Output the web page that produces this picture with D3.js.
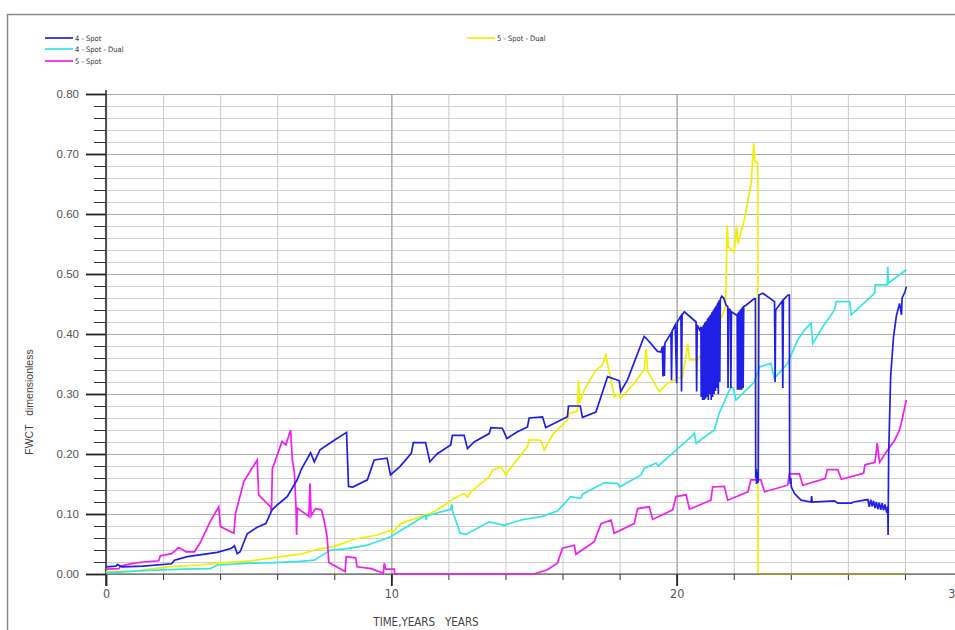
<!DOCTYPE html>
<html>
<head>
<meta charset="utf-8">
<script src="https://cdn.jsdelivr.net/npm/d3@7"></script>
<style>
  html, body { margin: 0; padding: 0; background: #fff; }
  svg { display: block; }
  .pre { white-space: pre; }
</style>
</head>
<body>
<svg id="chart" width="955" height="630"></svg>
<script>
// ---------------- DATA ----------------
const seriesNames = ["4 - Spot", "4 - Spot - Dual", "5 - Spot", "5 - Spot - Dual"];

// 4 - Spot  [time (years), FWCT]
const spot4 = [
  [0,0.012],[0.35,0.013],[0.4,0.016],[0.55,0.012],[1.3,0.013],[2.3,0.017],[2.4,0.023],[2.85,0.029],
  [3.9,0.036],[4.4,0.043],[4.5,0.047],[4.6,0.034],[4.7,0.037],[4.95,0.067],[5.3,0.078],[5.6,0.084],
  [5.82,0.107],[6.0,0.115],[6.35,0.129],[6.7,0.157],[6.85,0.175],[7.17,0.202],[7.3,0.187],[7.5,0.207],
  [8.0,0.223],[8.43,0.236],[8.5,0.146],[8.65,0.145],[9.16,0.157],[9.4,0.19],[9.85,0.193],[9.97,0.165],
  [10.3,0.179],[10.7,0.201],[10.77,0.219],[11.2,0.219],[11.35,0.187],[11.6,0.2],[12.08,0.215],[12.14,0.231],
  [12.55,0.231],[12.67,0.209],[12.9,0.22],[13.43,0.234],[13.49,0.244],[13.89,0.243],[14.05,0.226],[14.42,0.237],
  [14.77,0.245],[14.83,0.26],[15.3,0.262],[15.41,0.244],[15.7,0.251],[16.17,0.262],[16.21,0.28],[16.62,0.28],
  [16.7,0.261],[17.17,0.27],[17.58,0.329],[17.99,0.322],[18.04,0.304],[18.28,0.324],[18.86,0.396],[18.95,0.392],
  [19.33,0.371],[19.45,0.37],[19.5,0.379],[19.52,0.329],[19.54,0.381],[19.57,0.33],[19.59,0.385],
  [19.8,0.401],[19.82,0.323],[19.84,0.405],[19.95,0.415],[20.0,0.318],[20.02,0.42],[20.15,0.43],[20.17,0.304],
  [20.19,0.432],[20.27,0.437],[20.68,0.42],[20.7,0.304],[20.72,0.415],[20.8,0.407],
  [20.85,0.412],[20.86,0.295],[20.88,0.41],[20.9,0.41],[20.91,0.29],[20.93,0.413],[20.95,0.415],[20.96,0.29],
  [20.98,0.417],[21.0,0.418],[21.01,0.292],[21.03,0.42],[21.05,0.42],[21.06,0.295],[21.08,0.424],[21.1,0.425],
  [21.11,0.29],[21.13,0.427],[21.15,0.428],[21.16,0.3],[21.18,0.43],[21.2,0.432],[21.21,0.29],[21.23,0.434],
  [21.25,0.436],[21.26,0.295],[21.28,0.438],[21.3,0.44],[21.31,0.3],[21.33,0.442],[21.35,0.443],[21.36,0.305],
  [21.38,0.445],[21.4,0.447],[21.41,0.31],[21.43,0.45],[21.45,0.452],[21.46,0.3],[21.48,0.454],[21.5,0.456],
  [21.51,0.32],[21.53,0.458],[21.58,0.463],[21.65,0.46],[21.73,0.448],[21.79,0.446],[21.8,0.31],[21.82,0.442],
  [21.88,0.44],[21.9,0.31],[21.92,0.437],[22.08,0.432],[22.12,0.432],[22.13,0.307],[22.15,0.434],[22.17,0.435],
  [22.18,0.307],[22.2,0.437],[22.22,0.438],[22.23,0.307],[22.25,0.44],[22.27,0.441],[22.28,0.307],[22.3,0.443],
  [22.32,0.444],[22.33,0.31],[22.35,0.446],[22.43,0.448],[22.72,0.459],[22.76,0.459],[22.77,0.16],[22.79,0.175],
  [22.8,0.15],[22.82,0.17],[22.84,0.152],[22.86,0.158],[22.88,0.465],[23.02,0.468],[23.43,0.454],[23.45,0.32],
  [23.47,0.44],[23.7,0.455],[23.72,0.31],[23.74,0.457],[23.9,0.465],[23.95,0.465],[23.96,0.165],[23.98,0.15],
  [24.0,0.16],[24.02,0.145],[24.13,0.134],[24.36,0.123],[24.71,0.12],[24.73,0.13],[24.75,0.12],[25.53,0.122],
  [25.65,0.118],[26.12,0.118],[26.2,0.12],[26.7,0.124],[26.75,0.112],[26.8,0.124],[26.85,0.113],[26.9,0.122],
  [26.95,0.11],[27.0,0.12],[27.05,0.108],[27.1,0.119],[27.15,0.107],[27.2,0.118],[27.25,0.106],[27.3,0.116],
  [27.35,0.105],[27.4,0.112],[27.41,0.065],[27.43,0.2],[27.5,0.33],[27.6,0.395],[27.7,0.43],[27.81,0.451],
  [27.85,0.44],[27.88,0.432],[27.9,0.46],[28.0,0.47],[28.05,0.479]
];

// 4 - Spot - Dual
const spot4Dual = [
  [0,0.002],[1.5,0.006],[2.7,0.008],[3.66,0.009],[3.9,0.015],[5.06,0.018],[5.9,0.019],[6.8,0.021],
  [7.3,0.023],[7.5,0.029],[7.87,0.04],[8.4,0.042],[9.16,0.048],[9.97,0.062],[10.56,0.079],[11.03,0.093],
  [11.2,0.098],[11.22,0.09],[11.25,0.097],[12.08,0.108],[12.12,0.116],[12.14,0.106],[12.41,0.068],[12.61,0.066],
  [13.13,0.079],[13.43,0.087],[13.95,0.081],[14.54,0.09],[15.3,0.096],[15.82,0.105],[16.29,0.129],[16.64,0.126],
  [16.7,0.133],[17.46,0.152],[17.93,0.151],[18.0,0.145],[18.75,0.165],[18.86,0.176],[19.28,0.185],[19.35,0.18],
  [19.92,0.204],[20.56,0.231],[20.62,0.235],[20.68,0.218],[21.32,0.24],[21.49,0.268],[21.9,0.312],[21.98,0.31],
  [22.08,0.29],[22.72,0.32],[22.9,0.345],[23.3,0.351],[23.42,0.326],[23.89,0.351],[24.24,0.39],[24.48,0.407],
  [24.71,0.418],[24.77,0.384],[25.12,0.412],[25.53,0.44],[25.59,0.454],[26.06,0.454],[26.12,0.432],[26.94,0.468],
  [26.96,0.482],[27.38,0.482],[27.4,0.512],[27.42,0.485],[28.05,0.507]
];

// 5 - Spot
const spot5 = [
  [0,0.008],[0.45,0.009],[0.5,0.013],[0.85,0.017],[1.3,0.02],[1.85,0.022],[1.9,0.03],[2.3,0.034],
  [2.55,0.044],[2.7,0.04],[2.8,0.037],[3.1,0.037],[3.3,0.052],[3.66,0.088],[3.95,0.112],[4.01,0.079],
  [4.48,0.068],[4.54,0.101],[4.83,0.154],[5.3,0.19],[5.35,0.132],[5.77,0.112],[5.8,0.105],[5.83,0.175],
  [6.17,0.221],[6.3,0.215],[6.47,0.24],[6.53,0.19],[6.6,0.17],[6.66,0.11],[6.68,0.065],[6.7,0.11],
  [7.11,0.096],[7.15,0.151],[7.19,0.097],[7.34,0.109],[7.55,0.107],[7.64,0.09],[7.75,0.062],[7.81,0.019],
  [8.0,0.014],[8.38,0.004],[8.42,0.029],[8.75,0.027],[8.8,0.012],[9.3,0.009],[9.72,0.001],[9.75,0.018],
  [9.8,0.008],[10.1,0.008],[10.12,0],[15.0,0],[15.47,0.007],[15.82,0.018],[16.0,0.043],[16.41,0.048],
  [16.47,0.033],[17.11,0.054],[17.35,0.084],[17.7,0.09],[17.81,0.068],[18.51,0.084],[18.63,0.109],[19.04,0.112],
  [19.16,0.091],[19.86,0.107],[19.98,0.129],[20.33,0.132],[20.45,0.108],[21.2,0.123],[21.26,0.145],[21.67,0.146],
  [21.79,0.123],[22.5,0.137],[22.6,0.157],[22.95,0.157],[23.08,0.137],[23.89,0.148],[23.95,0.167],[24.3,0.167],
  [24.42,0.148],[25.2,0.159],[25.28,0.174],[25.65,0.174],[25.77,0.158],[26.55,0.168],[26.6,0.182],[26.95,0.186],
  [27.03,0.218],[27.11,0.186],[27.4,0.207],[27.64,0.223],[27.81,0.24],[27.87,0.251],[28.05,0.29]
];

// 5 - Spot - Dual
const spot5Dual = [
  [0,0.004],[1.0,0.005],[2.14,0.012],[3.3,0.015],[3.9,0.018],[5.06,0.022],[6.0,0.028],[6.82,0.033],
  [7.4,0.041],[8.0,0.046],[8.69,0.058],[9.51,0.065],[9.97,0.073],[10.03,0.069],[10.33,0.084],[11.03,0.096],
  [11.5,0.104],[11.96,0.118],[12.2,0.126],[12.55,0.134],[12.67,0.128],[12.78,0.137],[13.43,0.162],[13.55,0.173],
  [13.84,0.179],[14.02,0.165],[14.1,0.172],[14.77,0.212],[14.83,0.224],[15.24,0.223],[15.36,0.207],[15.65,0.232],
  [16.17,0.257],[16.23,0.268],[16.52,0.271],[16.56,0.323],[16.6,0.285],[16.76,0.307],[17.17,0.34],[17.4,0.348],
  [17.52,0.365],[17.58,0.35],[17.7,0.323],[17.81,0.295],[17.93,0.3],[18.04,0.293],[18.51,0.318],[18.86,0.34],
  [18.93,0.375],[18.98,0.338],[19.16,0.323],[19.39,0.304],[19.68,0.318],[20.21,0.329],[20.39,0.384],[20.45,0.357],
  [20.74,0.357],[21.32,0.41],[21.56,0.427],[21.67,0.44],[21.72,0.45],[21.77,0.581],[21.81,0.545],[22.02,0.537],
  [22.1,0.581],[22.14,0.55],[22.37,0.59],[22.61,0.651],[22.7,0.718],[22.74,0.688],[22.84,0.685],[22.85,0],
  [28.05,0]
];

const seriesColors = ["#1f1fe6", "#33e6e6", "#f01ef0", "#f0f000"];
const xMajorTicks = [0, 10, 20, 30];
const xMinorTicks = d3.range(0, 31, 2);
const yMajorTicks = [0, 0.1, 0.2, 0.3, 0.4, 0.5, 0.6, 0.7, 0.8];
const yMinorTicks = d3.range(0, 0.8001, 0.02);
const xTitle = "TIME,YEARS   YEARS";
const yTitle = "FWCT   dimensionless";

// ---------------- DRAW ----------------
const svg = d3.select("#chart");
const x = d3.scaleLinear().domain([0, 30]).range([106, 962]);
const y = d3.scaleLinear().domain([0, 0.8]).range([574, 94]);
const narrow = "'Liberation Sans Narrow','DejaVu Sans Condensed','Liberation Sans',sans-serif";
const regular = "'Liberation Sans',Arial,sans-serif";

// outer frame
svg.append("rect").attr("x", 7.5).attr("y", 14.5).attr("width", 960).attr("height", 630)
  .attr("fill", "none").attr("stroke", "#8a8a8a").attr("stroke-width", 1.5);

// grid - horizontal
const gridH = svg.append("g").attr("transform", `translate(${x(0)},0)`)
  .call(d3.axisLeft(y).tickValues(yMinorTicks).tickSize(-(x(30) - x(0))).tickFormat(""));
gridH.select(".domain").remove();
gridH.selectAll("line").attr("stroke", "#d0d0d0").attr("stroke-width", 1);
const gridHMajor = svg.append("g").attr("transform", `translate(${x(0)},0)`)
  .call(d3.axisLeft(y).tickValues(yMajorTicks).tickSize(-(x(30) - x(0))).tickFormat(""));
gridHMajor.select(".domain").remove();
gridHMajor.selectAll("line").attr("stroke", "#a8a8a8").attr("stroke-width", 1.2);

// grid - vertical
const gridV = svg.append("g").attr("transform", `translate(0,${y(0)})`)
  .call(d3.axisBottom(x).tickValues(xMinorTicks).tickSize(-(y(0) - y(0.8))).tickFormat(""));
gridV.select(".domain").remove();
gridV.selectAll("line").attr("stroke", "#cbcbcb").attr("stroke-width", 1);
const gridVMajor = svg.append("g").attr("transform", `translate(0,${y(0)})`)
  .call(d3.axisBottom(x).tickValues(xMajorTicks).tickSize(-(y(0) - y(0.8))).tickFormat(""));
gridVMajor.select(".domain").remove();
gridVMajor.selectAll("line").attr("stroke", "#a5a5a5").attr("stroke-width", 1.2);

// y axis minor ticks
const yMin = svg.append("g").attr("transform", `translate(${x(0)},0)`)
  .call(d3.axisLeft(y).tickValues(yMinorTicks).tickSize(12).tickFormat(""));
yMin.select(".domain").remove();
yMin.selectAll("line").attr("stroke", "#333").attr("stroke-width", 1);

// y axis major
const yAx = svg.append("g").attr("transform", `translate(${x(0)},0)`)
  .call(d3.axisLeft(y).tickValues(yMajorTicks).tickSize(20).tickPadding(7).tickFormat(d3.format(".2f")));
yAx.select(".domain").remove();
yAx.selectAll("line").attr("stroke", "#222").attr("stroke-width", 1.8);
yAx.selectAll("text").attr("font-family", regular).attr("font-size", 11.5).attr("fill", "#555");

// x axis minor
const xMin = svg.append("g").attr("transform", `translate(0,${y(0)})`)
  .call(d3.axisBottom(x).tickValues(xMinorTicks).tickSize(6).tickFormat(""));
xMin.select(".domain").remove();
xMin.selectAll("line").attr("stroke", "#333").attr("stroke-width", 1);

// x axis major
const xAx = svg.append("g").attr("transform", `translate(0,${y(0)})`)
  .call(d3.axisBottom(x).tickValues(xMajorTicks).tickSize(12).tickPadding(3).tickFormat(d3.format("d")));
xAx.select(".domain").remove();
xAx.selectAll("line").attr("stroke", "#222").attr("stroke-width", 1.8);
xAx.selectAll("text").attr("font-family", narrow).attr("font-size", 12.5).attr("fill", "#555")
  .attr("dx", d => d === 30 ? -7 : 0);

// y axis line
svg.append("line").attr("x1", x(0)).attr("x2", x(0)).attr("y1", y(0.8) - 4).attr("y2", y(0) + 12)
  .attr("stroke", "#333").attr("stroke-width", 1.6);

// series
const allSeries = [spot4, spot4Dual, spot5, spot5Dual];
const line = d3.line().x(d => x(d[0])).y(d => y(d[1]));
function drawSeries(i) {
  svg.append("path").datum(allSeries[i]).attr("d", line).attr("fill", "none")
    .attr("stroke", seriesColors[i]).attr("stroke-width", 1.7).attr("stroke-linejoin", "miter");
}
drawSeries(3);
// x axis line (over yellow, under the others)
svg.append("line").attr("x1", x(0)).attr("x2", 960).attr("y1", y(0)).attr("y2", y(0))
  .attr("stroke", "#555").attr("stroke-width", 2).attr("stroke-opacity", 0.55);
[1, 2, 0].forEach(drawSeries);

// titles
svg.append("text").attr("class", "pre").attr("x", 426).attr("y", 626).attr("text-anchor", "middle")
  .attr("font-family", narrow).attr("font-size", 11.5).attr("fill", "#444").text(xTitle);
svg.append("text").attr("class", "pre").attr("transform", "translate(33,402) rotate(-90)").attr("text-anchor", "middle")
  .attr("font-family", regular).attr("font-size", 10.5).attr("fill", "#444").text(yTitle);

// legend
const legendPos = [[45, 38], [45, 49], [45, 61], [467, 38]];
[0, 1, 2, 3].forEach((i, k) => {
  const [lx, ly] = legendPos[k];
  svg.append("line").attr("x1", lx).attr("x2", lx + 28).attr("y1", ly).attr("y2", ly)
    .attr("stroke", seriesColors[i]).attr("stroke-width", 1.7);
  svg.append("text").attr("x", lx + 30).attr("y", ly + 2.5).attr("font-family", narrow)
    .attr("font-size", 7.5).attr("fill", "#333").text(seriesNames[i]);
});
</script>
</body>
</html>
